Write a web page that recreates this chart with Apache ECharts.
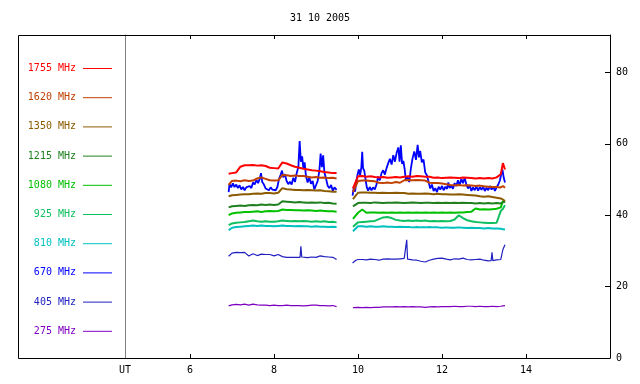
<!DOCTYPE html>
<html><head><meta charset="utf-8">
<script src="https://cdn.jsdelivr.net/npm/echarts@6/dist/echarts.min.js"></script>
<style>html,body{margin:0;padding:0;background:#fff}#c{width:640px;height:384px}</style>
</head><body><div id="c"></div>
<script>
// ---- data ----
const TITLE = '31 10 2005';
const X_TICKS = [6, 8, 10, 12, 14];
const Y_TICKS = [0, 20, 40, 60, 80];
const NAMES = ['1755 MHz','1620 MHz','1350 MHz','1215 MHz','1080 MHz','925 MHz','810 MHz','670 MHz','405 MHz','275 MHz'];

const T1 = [6.92,7.0,7.1,7.2,7.3,7.4,7.5,7.6,7.7,7.8,7.9,8.0,8.1,8.2,8.3,8.4,8.5,8.6,8.7,8.8,8.9,9.0,9.1,9.2,9.3,9.4,9.49];
const T2 = [9.88,10.0,10.1,10.2,10.3,10.4,10.5,10.6,10.7,10.8,10.9,11.0,11.1,11.2,11.3,11.4,11.5,11.6,11.7,11.8,11.9,12.0,12.1,12.2,12.3,12.4,12.5,12.6,12.7,12.8,12.9,13.0,13.1,13.2,13.3,13.4,13.45,13.5];

const V1755a = [51.6,51.8,52.0,53.6,54.0,54.0,54.1,53.9,54.0,53.8,53.3,53.2,53.1,54.8,54.5,54.0,53.6,53.3,53.0,52.8,52.6,52.5,52.3,52.1,52.0,51.8,51.8];
const V1755b = [47.5,50.9,51.0,50.8,50.9,50.7,50.6,50.7,50.5,50.6,50.7,50.6,50.8,50.9,50.8,51.0,50.9,50.8,50.8,50.5,50.6,50.4,50.5,50.6,50.5,50.4,50.6,50.5,50.4,50.3,50.4,50.3,50.4,50.3,50.6,51.5,54.6,52.8];
const V1620a = [48.5,49.6,49.7,49.5,49.8,49.6,49.7,50.3,50.6,50.2,49.8,49.7,49.8,51.3,51.2,51.0,51.1,51.0,51.0,50.8,50.6,50.7,50.5,50.6,50.4,50.5,50.3];
const V1620b = [46.5,49.6,49.7,49.7,49.6,49.5,49.1,49.0,49.2,49.0,49.3,49.1,49.8,49.9,49.8,49.9,49.8,49.7,49.1,49.0,49.0,48.9,48.7,48.5,48.4,48.5,48.3,48.4,48.3,48.2,48.3,48.1,48.0,47.9,47.9,47.8,48.2,47.7];
const V1350a = [45.3,45.6,45.7,45.8,45.9,45.9,46.0,46.1,46.0,46.2,46.2,46.1,46.3,47.6,47.3,47.2,47.1,47.1,47.0,47.1,47.0,46.9,47.0,46.8,46.7,46.6,46.6];
const V1350b = [44.5,46.3,46.4,46.4,46.3,46.3,46.2,46.3,46.2,46.2,46.3,46.2,46.2,46.0,46.1,46.0,46.0,46.1,46.0,45.9,46.0,45.9,45.9,45.8,45.8,45.9,45.8,45.7,45.6,45.5,45.3,45.2,45.3,45.1,44.9,44.7,44.4,44.0];
const V1215a = [42.2,42.5,42.6,42.7,42.6,42.8,42.9,42.8,43.0,42.9,43.0,42.9,43.0,43.9,43.8,43.7,43.6,43.7,43.6,43.5,43.6,43.5,43.6,43.4,43.5,43.3,43.2];
const V1215b = [42.5,43.4,43.5,43.5,43.4,43.6,43.5,43.4,43.5,43.5,43.6,43.5,43.4,43.5,43.6,43.5,43.4,43.5,43.5,43.4,43.5,43.4,43.5,43.4,43.5,43.4,43.5,43.4,43.4,43.3,43.4,43.3,43.4,43.3,43.4,43.3,43.6,43.8];
const V1080a = [40.0,40.5,40.7,40.8,40.9,40.9,41.0,41.1,40.9,41.1,41.2,41.1,41.2,41.6,41.5,41.5,41.4,41.4,41.3,41.4,41.3,41.2,41.3,41.2,41.1,41.1,41.0];
const V1080b = [39.0,40.7,41.6,40.7,40.8,40.8,40.7,40.8,40.7,40.8,40.7,40.8,40.7,40.8,40.7,40.8,40.7,40.8,40.7,40.8,40.7,40.8,40.7,40.8,40.7,40.8,40.8,40.9,41.0,41.9,41.6,41.7,41.6,41.7,41.8,42.2,44.0,43.6];
const V925a = [37.2,37.7,37.9,38.0,38.1,38.3,38.5,38.3,38.2,38.3,38.2,38.2,38.3,38.5,38.4,38.3,38.4,38.3,38.4,38.3,38.2,38.3,38.2,38.3,38.1,38.2,38.0];
const V925b = [36.8,38.0,38.1,38.2,38.3,38.4,38.9,39.4,39.5,39.2,38.7,38.5,38.4,38.5,38.4,38.5,38.4,38.5,38.3,38.4,38.3,38.4,38.3,38.4,38.8,40.0,39.2,38.6,38.3,38.1,38.0,37.9,37.8,37.8,37.9,41.2,41.8,42.8];
const V810a = [35.8,36.5,36.7,36.8,36.9,37.0,37.1,37.0,37.1,37.0,37.0,36.9,37.0,37.1,37.0,37.0,36.9,37.0,36.9,36.9,36.8,36.9,36.8,36.8,36.7,36.8,36.7];
const V810b = [35.5,36.9,36.9,36.8,36.9,36.8,36.8,36.9,36.8,36.8,36.7,36.8,36.7,36.7,36.6,36.7,36.6,36.6,36.7,36.6,36.6,36.5,36.6,36.5,36.5,36.6,36.5,36.4,36.5,36.4,36.4,36.3,36.4,36.3,36.3,36.2,36.1,36.0];
const V275a = [14.6,14.9,15.0,14.9,15.1,14.8,15.1,14.9,14.8,14.8,14.7,14.8,14.7,14.7,14.8,14.7,14.7,14.7,14.6,14.7,14.8,14.8,14.7,14.7,14.6,14.7,14.4];
const V275b = [14.1,14.2,14.1,14.2,14.1,14.2,14.2,14.3,14.3,14.3,14.4,14.3,14.4,14.3,14.4,14.3,14.3,14.2,14.3,14.4,14.3,14.4,14.4,14.4,14.5,14.4,14.4,14.5,14.5,14.4,14.5,14.4,14.4,14.5,14.4,14.5,14.6,14.7];

const P670a = [[6.92,46.5],[6.94,48.8],[6.98,47.8],[7.02,48.9],[7.06,47.9],[7.10,48.6],[7.14,47.6],[7.18,48.4],[7.22,47.2],[7.26,47.9],[7.30,47.0],[7.34,47.8],[7.38,47.3],[7.42,48.2],[7.46,47.6],[7.50,49.2],[7.54,48.6],[7.58,49.9],[7.62,49.0],[7.66,50.2],[7.69,51.8],[7.72,49.3],[7.76,48.6],[7.80,47.5],[7.84,47.9],[7.88,47.0],[7.92,47.8],[7.96,47.2],[8.00,47.6],[8.04,47.0],[8.08,47.9],[8.12,50.2],[8.16,51.4],[8.19,52.5],[8.22,50.6],[8.26,51.5],[8.30,49.6],[8.34,48.7],[8.38,49.4],[8.42,48.6],[8.46,50.5],[8.50,49.3],[8.54,51.8],[8.58,53.5],[8.61,60.8],[8.64,55.0],[8.67,56.5],[8.70,53.0],[8.73,54.8],[8.76,51.0],[8.80,49.2],[8.84,50.6],[8.88,48.8],[8.92,49.6],[8.96,47.2],[9.00,48.4],[9.04,49.6],[9.08,52.5],[9.11,57.3],[9.14,53.5],[9.17,56.8],[9.20,52.0],[9.24,50.2],[9.28,48.2],[9.32,47.6],[9.36,48.5],[9.40,46.8],[9.44,47.8],[9.49,47.1]];
const P670b = [[9.87,45.5],[9.90,47.8],[9.93,46.6],[9.96,49.5],[9.99,51.5],[10.02,52.8],[10.05,51.2],[10.08,53.5],[10.10,57.8],[10.12,53.2],[10.15,52.4],[10.18,50.0],[10.21,47.8],[10.24,46.9],[10.28,47.9],[10.32,47.0],[10.36,47.8],[10.40,47.2],[10.44,48.6],[10.48,50.8],[10.52,49.8],[10.56,51.8],[10.60,52.6],[10.64,51.4],[10.68,53.2],[10.72,54.6],[10.76,55.8],[10.80,54.2],[10.84,56.8],[10.88,55.0],[10.92,57.5],[10.96,59.0],[10.99,55.0],[11.02,59.6],[11.05,54.4],[11.08,55.2],[11.11,53.0],[11.14,49.8],[11.18,50.6],[11.22,49.3],[11.26,53.2],[11.30,56.0],[11.34,57.9],[11.38,55.5],[11.42,59.7],[11.45,56.2],[11.48,58.0],[11.52,54.8],[11.56,55.6],[11.60,52.0],[11.64,51.2],[11.68,49.4],[11.72,47.5],[11.76,48.6],[11.80,46.8],[11.84,47.6],[11.88,46.5],[11.92,48.0],[11.96,47.2],[12.00,48.2],[12.04,47.0],[12.08,48.0],[12.12,47.4],[12.15,49.2],[12.18,47.6],[12.22,48.3],[12.26,47.4],[12.30,49.0],[12.34,48.2],[12.38,49.8],[12.42,48.4],[12.46,50.2],[12.50,49.0],[12.54,50.5],[12.58,48.6],[12.62,47.5],[12.66,48.4],[12.70,46.8],[12.74,47.8],[12.78,47.0],[12.82,48.1],[12.86,46.9],[12.90,47.9],[12.94,47.1],[12.98,48.0],[13.02,46.8],[13.06,47.7],[13.10,47.0],[13.14,48.2],[13.18,47.2],[13.22,48.0],[13.26,46.8],[13.30,47.8],[13.34,48.6],[13.38,49.8],[13.41,51.5],[13.44,52.8],[13.47,50.5],[13.50,49.2]];

const P405a = [[6.92,28.5],[7.0,29.4],[7.1,29.6],[7.2,29.5],[7.3,29.6],[7.4,28.6],[7.5,29.2],[7.6,28.7],[7.7,29.1],[7.8,29.0],[7.9,29.0],[8.0,28.6],[8.1,29.0],[8.2,28.4],[8.3,28.2],[8.4,28.2],[8.5,28.2],[8.62,28.2],[8.64,31.3],[8.66,28.3],[8.7,28.4],[8.8,28.1],[8.9,28.3],[9.0,28.2],[9.1,28.6],[9.2,28.4],[9.3,28.3],[9.4,28.2],[9.49,27.6]];
const P405b = [[9.87,26.6],[9.95,27.4],[10.0,27.6],[10.1,27.6],[10.2,27.5],[10.3,27.7],[10.4,27.6],[10.5,27.4],[10.6,27.7],[10.7,27.8],[10.8,27.7],[10.9,27.7],[11.0,27.8],[11.1,27.9],[11.14,27.8],[11.16,33.1],[11.18,27.7],[11.3,27.5],[11.4,27.4],[11.5,27.1],[11.6,26.9],[11.7,27.4],[11.8,27.7],[11.9,27.9],[12.0,28.0],[12.1,27.7],[12.2,27.5],[12.3,27.8],[12.4,27.7],[12.5,28.0],[12.6,27.6],[12.7,27.5],[12.8,27.6],[12.9,27.7],[13.0,27.4],[13.1,27.2],[13.17,27.3],[13.19,29.6],[13.21,27.3],[13.3,27.5],[13.4,27.6],[13.45,30.4],[13.5,31.7]];

// ---- build ----
const FONT = 'DejaVu Sans Mono';
const COLORS = {
  '1755 MHz':'#ff0000','1620 MHz':'#c04000','1350 MHz':'#8c5a00','1215 MHz':'#208020',
  '1080 MHz':'#00c000','925 MHz':'#10c060','810 MHz':'#00c0c0','670 MHz':'#0000ff',
  '405 MHz':'#2020c0','275 MHz':'#8000c0'
};
const GAP = [[9.7, '-']];
const seg = (T, V) => T.map((t, i) => [t, V[i]]);
const DATA = {
  '1755 MHz': seg(T1, V1755a).concat(GAP, seg(T2, V1755b)),
  '1620 MHz': seg(T1, V1620a).concat(GAP, seg(T2, V1620b)),
  '1350 MHz': seg(T1, V1350a).concat(GAP, seg(T2, V1350b)),
  '1215 MHz': seg(T1, V1215a).concat(GAP, seg(T2, V1215b)),
  '1080 MHz': seg(T1, V1080a).concat(GAP, seg(T2, V1080b)),
  '925 MHz': seg(T1, V925a).concat(GAP, seg(T2, V925b)),
  '810 MHz': seg(T1, V810a).concat(GAP, seg(T2, V810b)),
  '670 MHz': P670a.concat(GAP, P670b),
  '405 MHz': P405a.concat(GAP, P405b),
  '275 MHz': seg(T1, V275a).concat(GAP, seg(T2, V275b))
};
const WIDTH = {'405 MHz':1.2,'275 MHz':1.2,'670 MHz':1.8};

const XMIN = 4.452, XMAX = 16, YMAX = 90.5;
const chart = echarts.init(document.getElementById('c'), null, {renderer:'canvas'});
const axisCommon = {
  type:'value', min:XMIN, max:XMAX,
  splitLine:{show:false},
  axisLine:{show:true, onZero:false, lineStyle:{color:'#000', width:1}},
  axisTick:{show:true, inside:true, length:4, customValues:X_TICKS, lineStyle:{color:'#000'}}
};
chart.setOption({
  animation:false,
  backgroundColor:'#fff',
  title:{text:TITLE, left:'center', top:13, padding:0,
    textStyle:{fontFamily:FONT, fontSize:10, fontWeight:'normal', color:'#000'}},
  grid:{left:125, right:30, top:35, bottom:26, show:false},
  xAxis:[
    Object.assign({}, axisCommon, {position:'bottom',
      axisLabel:{show:true, margin:7, fontFamily:FONT, fontSize:10, color:'#000',
        customValues:[XMIN].concat(X_TICKS),
        formatter:v => v < 5 ? 'UT' : String(v)}}),
    Object.assign({}, axisCommon, {position:'top', axisLabel:{show:false}})
  ],
  yAxis:[
    {type:'value', position:'right', min:0, max:YMAX,
      splitLine:{show:false},
      axisLine:{show:true, lineStyle:{color:'#000'}},
      axisTick:{show:true, inside:true, length:5, customValues:Y_TICKS, lineStyle:{color:'#000'}},
      axisLabel:{show:true, margin:6, fontFamily:FONT, fontSize:10, color:'#000', customValues:Y_TICKS}},
    {type:'value', position:'left', min:0, max:YMAX,
      splitLine:{show:false},
      axisLine:{show:true, lineStyle:{color:'#808080'}},
      axisTick:{show:false}, axisLabel:{show:false}}
  ],
  legend:{
    orient:'vertical', align:'right', right:528, top:62.5, padding:0,
    itemWidth:29, itemHeight:1, itemGap:17.2, icon:'rect', selectedMode:false,
    textStyle:{fontFamily:FONT, fontSize:10, lineHeight:12, padding:[0,2,0,0]},
    data:NAMES.map(n => ({name:n, textStyle:{color:COLORS[n]}}))
  },
  graphic:[{
    type:'polyline', silent:true,
    shape:{points:[[125,35.5],[18.5,35.5],[18.5,358.5],[125,358.5]]},
    style:{stroke:'#000', lineWidth:1, fill:null}
  }],
  series:NAMES.slice().reverse().map(n => ({
    name:n, type:'line', data:DATA[n], symbol:'none', showSymbol:false,
    connectNulls:false, color:COLORS[n], itemStyle:{color:COLORS[n]},
    lineStyle:{color:COLORS[n], width:WIDTH[n] || 2}, emphasis:{disabled:true}
  }))
});
</script></body></html>
